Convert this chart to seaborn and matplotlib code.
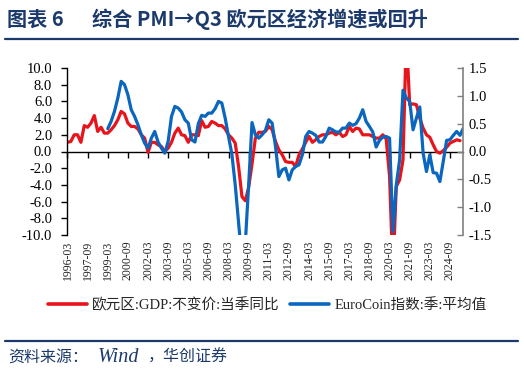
import numpy as np
import pandas as pd
import matplotlib
matplotlib.use("Agg")
import matplotlib.pyplot as plt
import seaborn as sns
from matplotlib.lines import Line2D

# ---------------- data ----------------
gdp_start = "1996Q1"
gdp_yoy = [
    1.1, 1.2, 2.0, 2.0, 1.1, 3.1, 2.9, 3.4, 4.3, 2.4,
    2.9, 2.2, 2.2, 2.6, 3.1, 3.8, 4.8, 4.5, 3.4, 3.0,
    3.0, 2.7, 2.0, 1.6, -0.1, 1.1, 1.1, 0.8, 0.6, 0.0,
    0.4, 1.1, 2.2, 2.8, 2.0, 1.9, 1.1, 2.0, 2.0, 1.9,
    3.7, 2.9, 3.0, 3.6, 3.4, 3.1, 3.1, 2.7, 2.0, 1.6,
    1.0, -1.8, -5.4, -5.9, -4.3, -1.5, 1.6, 2.3, 2.3, 2.4,
    3.0, 2.6, 1.2, 0.2, -0.4, -1.2, -1.3, -1.3, -1.8, -0.4,
    0.3, 1.1, 1.8, 1.1, 1.4, 1.8, 2.0, 2.0, 2.2, 2.3,
    2.0, 2.3, 1.8, 2.0, 3.0, 2.4, 2.8, 2.7, 2.0, 2.0,
    2.0, 1.8, 1.6, 1.6, 2.0, 1.5, -3.0, -14.5, -4.2, -3.4,
    -1.0, 14.0, 5.6, 5.7, 5.6, 4.0, 2.8, 2.0, 1.7, 0.8,
    0.0, -0.2, 0.1, 0.5, 1.0, 1.2, 1.4, 1.3,
]
eurocoin_start = "1999Q1"
eurocoin = [
    0.41, 0.54, 0.72, 0.96, 1.26, 1.20, 1.02, 0.75, 0.63, 0.48,
    0.30, 0.15, 0.06, 0.24, 0.36, 0.17, 0.06, -0.03, 0.18, 0.63,
    0.81, 0.78, 0.71, 0.57, 0.51, 0.21, 0.17, 0.50, 0.65, 0.63,
    0.69, 0.69, 0.77, 0.90, 0.87, 0.60, 0.27, -0.05, -0.60, -1.28,
    -1.95, -1.65, -0.60, 0.52, 0.30, 0.24, 0.30, 0.38, 0.57, 0.51,
    0.09, -0.45, -0.33, -0.30, -0.51, -0.33, -0.27, -0.24, -0.06, 0.27,
    0.36, 0.33, 0.29, 0.17, 0.17, 0.27, 0.42, 0.39, 0.35, 0.35,
    0.42, 0.42, 0.51, 0.47, 0.50, 0.60, 0.75, 0.54, 0.45, 0.35,
    0.08, 0.20, 0.26, 0.27, 0.24, -1.44, -0.60, -0.15, 1.10, 0.96,
    0.90, 0.39, 0.60, 0.80, -0.03, -0.36, -0.06, -0.38, -0.39, -0.54,
    -0.18, 0.20, 0.21, 0.29, 0.36, 0.29, 0.42,
]
left_ticks = [-10.0, -8.0, -6.0, -4.0, -2.0, 0.0, 2.0, 4.0, 6.0, 8.0, 10.0]
right_ticks = [-1.5, -1.0, -0.5, 0.0, 0.5, 1.0, 1.5]
tick_step = 6  # quarters between x labels
title_num = "图表 6"
title_text = "综合 PMI→Q3 欧元区经济增速或回升"
legend_labels = ["欧元区:GDP:不变价:当季同比", "EuroCoin指数:季:平均值"]
source_parts = ["资料来源：", "Wind", "，华创证券"]

RED = "#E8141C"
BLUE = "#0A66BE"
NAVY = "#1B3A6B"

# ---------------- style ----------------
sns.set_style("ticks")
plt.rcParams["font.family"] = ["Liberation Serif", "Noto Sans CJK SC"]
plt.rcParams["axes.unicode_minus"] = False

q_gdp = pd.period_range(gdp_start, periods=len(gdp_yoy), freq="Q")
q_ec = pd.period_range(eurocoin_start, periods=len(eurocoin), freq="Q")
origin = q_gdp[0]
df_gdp = pd.DataFrame({"pos": [(q - origin).n for q in q_gdp], "val": gdp_yoy})
df_ec = pd.DataFrame({"pos": [(q - origin).n for q in q_ec], "val": eurocoin})
last_pos = max(df_gdp["pos"].max(), df_ec["pos"].max())
all_q = pd.period_range(gdp_start, q_ec[-1], freq="Q")
tick_pos = list(range(0, last_pos + 1, tick_step))
tick_lab = [f"{all_q[p].year}-{all_q[p].quarter * 3:02d}" for p in tick_pos]

fig = plt.figure(figsize=(5.24, 3.75), dpi=100)
ax = fig.add_axes([0.1288, 0.3733, 0.7555, 0.4454])
ax2 = ax.twinx()

sns.lineplot(data=df_gdp, x="pos", y="val", ax=ax, color=RED, lw=2.3, legend=False)
sns.lineplot(data=df_ec, x="pos", y="val", ax=ax2, color=BLUE, lw=2.3, legend=False)

ax.set_xlim(0, last_pos)
ax.set_ylim(-10, 10)
ax2.set_ylim(-1.5, 1.5)
ax.set_xlabel("")
ax.set_ylabel("")
ax2.set_ylabel("")

ax.set_yticks(left_ticks)
ax.set_yticklabels([f"{v:.1f}" for v in left_ticks], fontsize=10.5)
ax2.set_yticks(right_ticks)
ax2.set_yticklabels([f"{v:.1f}" for v in right_ticks], fontsize=10.5)

ax.set_xticks(tick_pos)
ax.set_xticklabels(tick_lab, rotation=90, fontsize=8.5)
ax.tick_params(axis="x", length=0, pad=4)
ax.tick_params(axis="y", direction="out", length=4, width=1, pad=7, colors="black")
ax2.tick_params(axis="y", direction="in", length=4, width=1, pad=4, color="#808080", labelcolor="black")

for s in ["top", "bottom"]:
    ax.spines[s].set_visible(False)
    ax2.spines[s].set_visible(False)
ax2.spines["left"].set_visible(False)
ax.spines["right"].set_visible(False)
ax.spines["left"].set_color("black")
ax.spines["left"].set_linewidth(1)
ax2.spines["right"].set_color("#808080")
ax2.spines["right"].set_linewidth(1.2)

# zero line with quarter tick marks
sec = ax.secondary_xaxis(0.4999)
sec.set_xticks(tick_pos)
sec.set_xticklabels([])
sec.tick_params(axis="x", direction="out", length=4, width=1, color="black")
sec.spines["bottom"].set_color("black")
sec.spines["bottom"].set_linewidth(1)

# legend
handles = [Line2D([], [], color=RED, lw=2.6), Line2D([], [], color=BLUE, lw=2.6)]
fig.legend(handles, legend_labels, loc="center", bbox_to_anchor=(0.51, 0.187),
           ncol=2, frameon=False, fontsize=10.5, handlelength=2.7,
           columnspacing=0.7, handletextpad=0.35)

# title and source
fig.text(0.013, 0.949, title_num, fontsize=14.5, fontweight="bold", color=NAVY,
         va="center", ha="left", family=["Noto Sans CJK SC", "DejaVu Sans"])
fig.text(0.176, 0.949, title_text, fontsize=14.5, fontweight="bold", color=NAVY,
         va="center", ha="left", family=["Noto Sans CJK SC", "DejaVu Sans"])
fig.add_artist(Line2D([0.01, 0.988], [0.897, 0.897], color=NAVY, lw=1.6,
                      transform=fig.transFigure))
fig.add_artist(Line2D([0.01, 0.988], [0.091, 0.091], color=NAVY, lw=1.6,
                      transform=fig.transFigure))
src_x = [0.015, 0.187, 0.282]
src_font = [["Noto Sans CJK SC"], ["Liberation Serif"], ["Noto Sans CJK SC"]]
src_size = [11.5, 14.5, 11.5]
for txt, xx, fam, sz in zip(source_parts, src_x, src_font, src_size):
    fig.text(xx, 0.048, txt, fontsize=sz, color=NAVY, style="italic",
             va="center", ha="left", family=fam)

fig.savefig("out.png", dpi=100)
